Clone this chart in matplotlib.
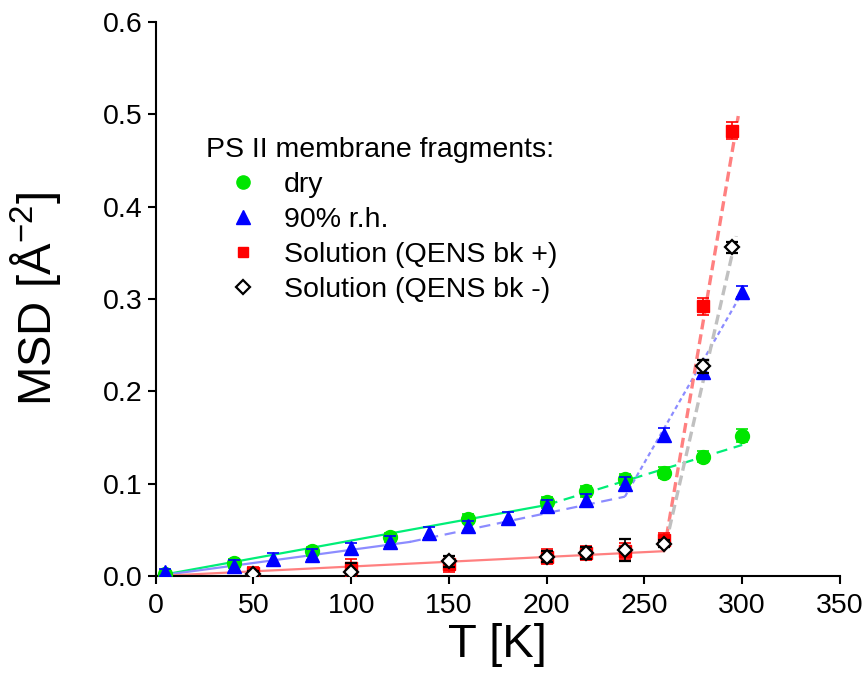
"""MSD vs temperature for PS II membrane fragments."""
import matplotlib
matplotlib.use("Agg")
import matplotlib.pyplot as plt
from matplotlib.lines import Line2D

plt.rcParams["font.family"] = ["Liberation Sans", "DejaVu Sans"]
plt.rcParams["mathtext.fontset"] = "custom"
plt.rcParams["mathtext.rm"] = "Liberation Sans"
plt.rcParams["mathtext.it"] = "Liberation Sans:italic"

# dry
T_DRY = [5, 40, 80, 120, 160, 200, 220, 240, 260, 280, 300]
MSD_DRY = [0.002, 0.014, 0.027, 0.042, 0.062, 0.080, 0.092, 0.105, 0.112, 0.129, 0.152]
ERR_DRY = [0.003, 0.005, 0.005, 0.005, 0.005, 0.006, 0.006, 0.006, 0.006, 0.006, 0.007]

# 90% r.h.
T_WET = [5, 40, 60, 80, 100, 120, 140, 160, 180, 200, 220, 240, 260, 280, 300]
MSD_WET = [0.004, 0.011, 0.019, 0.023, 0.030, 0.037, 0.047, 0.054, 0.063, 0.076, 0.082,
           0.100, 0.153, 0.221, 0.308]
ERR_WET = [0.004, 0.006, 0.006, 0.006, 0.006, 0.006, 0.006, 0.006, 0.006, 0.006, 0.007,
           0.007, 0.007, 0.007, 0.006]

# solution, QENS bk +
T_SOLP = [50, 100, 150, 200, 220, 240, 260, 280, 295]
MSD_SOLP = [0.003, 0.009, 0.013, 0.021, 0.025, 0.027, 0.039, 0.292, 0.482]
ERR_SOLP = [0.007, 0.010, 0.009, 0.008, 0.008, 0.009, 0.008, 0.009, 0.009]

# solution, QENS bk -
T_SOLM = [50, 100, 150, 200, 220, 240, 260, 280, 295]
MSD_SOLM = [0.002, 0.005, 0.016, 0.021, 0.025, 0.028, 0.035, 0.227, 0.356]
ERR_SOLM = [0.004, 0.009, 0.006, 0.006, 0.006, 0.012, 0.004, 0.007, 0.006]

# guide lines (end points of straight segments)
FIT_DRY_LOW = ([0, 200], [0.0, 0.077])
FIT_DRY_HIGH = ([200, 300], [0.077, 0.142])
FIT_WET_LOW = ([0, 130], [0.0, 0.037])
FIT_WET_MID = ([130, 240], [0.037, 0.086])
FIT_WET_HIGH = ([240, 300], [0.086, 0.307])
FIT_SOLP_LOW = ([0, 260], [0.0, 0.027])
FIT_SOLP_HIGH = ([260, 298], [0.027, 0.498])
FIT_SOLM_HIGH = ([261, 297], [0.035, 0.368])

GREEN = "#00e600"
GREEN_LINE = "#00ee77"
BLUE_LINE = "#8c8cff"
RED_LINE = "#ff8080"
GRAY_LINE = "#c0c0c0"


def main():
    fig = plt.figure(figsize=(8.65, 6.81), dpi=100)
    ax = fig.add_axes([0.180, 0.154, 0.791, 0.814])

    ax.plot(*FIT_DRY_LOW, color=GREEN_LINE, lw=1.6, zorder=1)
    ax.plot(*FIT_DRY_HIGH, color=GREEN_LINE, lw=1.6, ls=(0, (5, 3)), zorder=1)
    ax.plot(*FIT_WET_LOW, color=BLUE_LINE, lw=1.6, zorder=1)
    ax.plot(*FIT_WET_MID, color=BLUE_LINE, lw=1.6, ls=(0, (5, 3)), zorder=1)
    ax.plot(*FIT_WET_HIGH, color=BLUE_LINE, lw=1.6, ls=(0, (2, 1.5)), zorder=1)
    ax.plot(*FIT_SOLP_LOW, color=RED_LINE, lw=1.6, zorder=1)
    ax.plot(*FIT_SOLP_HIGH, color=RED_LINE, lw=2.4, ls=(0, (3, 1.5)), zorder=1)
    ax.plot(*FIT_SOLM_HIGH, color=GRAY_LINE, lw=2.4, ls=(0, (3, 1.5)), zorder=1)

    ax.errorbar(T_DRY, MSD_DRY, yerr=ERR_DRY, fmt="o", color=GREEN, ms=10,
                mec=GREEN, capsize=4.5, elinewidth=1.2, capthick=1.2, zorder=3)
    ax.errorbar(T_WET, MSD_WET, yerr=ERR_WET, fmt="^", color="blue", ms=10.5,
                capsize=4.5, elinewidth=1.2, capthick=1.2, zorder=4)
    ax.errorbar(T_SOLP, MSD_SOLP, yerr=ERR_SOLP, fmt="s", color="red", ms=8,
                capsize=4.5, elinewidth=1.2, capthick=1.2, zorder=5)
    ax.errorbar(T_SOLM, MSD_SOLM, yerr=ERR_SOLM, fmt="D", color="black", ms=7.5,
                mfc="white", mew=1.6, capsize=4.5, elinewidth=1.2, capthick=1.2,
                zorder=6)

    handles = [
        Line2D([], [], ls="none", marker="o", color=GREEN, ms=9.5),
        Line2D([], [], ls="none", marker="^", color="blue", ms=10),
        Line2D([], [], ls="none", marker="s", color="red", ms=7.5),
        Line2D([], [], ls="none", marker="D", color="black", mfc="white",
               ms=7, mew=1.6),
    ]
    labels = ["dry", "90% r.h.", "Solution (QENS bk +)", "Solution (QENS bk -)"]
    ax.legend(handles, labels, title="PS II membrane fragments:",
              loc="upper left", bbox_to_anchor=(0.074, 0.793),
              frameon=False, fontsize=20.5, title_fontsize=20.5,
              alignment="left", handlelength=2.6, handletextpad=0.12,
              labelspacing=0.32, borderpad=0.0, borderaxespad=0.0)

    ax.set_xlim(0, 350)
    ax.set_ylim(0, 0.6)
    ax.set_xticks([0, 50, 100, 150, 200, 250, 300, 350])
    ax.set_yticks([0.0, 0.1, 0.2, 0.3, 0.4, 0.5, 0.6])
    ax.set_yticklabels(["0.0", "0.1", "0.2", "0.3", "0.4", "0.5", "0.6"])
    ax.tick_params(labelsize=20.5, width=1.5, length=6, direction="out")
    ax.tick_params(axis="x", pad=6)
    for side in ("top", "right"):
        ax.spines[side].set_visible(False)
    for side in ("left", "bottom"):
        ax.spines[side].set_linewidth(1.5)

    ax.set_xlabel("T [K]", fontsize=34, labelpad=3)
    ax.set_ylabel(r"MSD [Å$^{\mathrm{-2}}$]", fontsize=34)
    ax.yaxis.set_label_coords(-0.136, 0.5)

    fig.savefig("out.png", dpi=100)


if __name__ == "__main__":
    main()
